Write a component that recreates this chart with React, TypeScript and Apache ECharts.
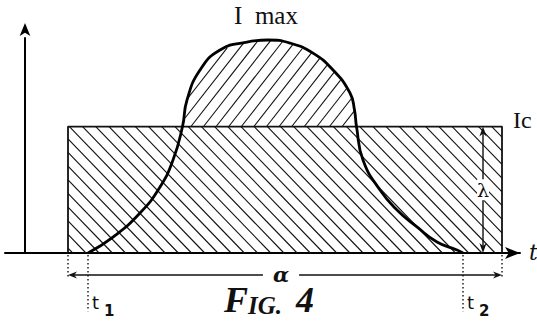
import React, { useEffect, useRef } from "react";
import * as echarts from "echarts";

// Current pulse I(t): time in arbitrary units, current in units of the critical current Ic
const pulseT = [12.6, 17.6, 23.0, 27.0, 29.6, 31.5, 32.4, 35.0, 39.0, 44.4, 48.6, 53.0, 57.6, 61.6, 65.0, 65.9, 66.3, 67.6, 71.0, 74.4, 78.4, 82.4, 86.4, 87.6];
const pulseI = [0, 0.126, 0.316, 0.522, 0.735, 1.0, 1.21, 1.447, 1.605, 1.668, 1.684, 1.66, 1.58, 1.447, 1.265, 1.13, 1.0, 0.735, 0.498, 0.34, 0.206, 0.087, 0.024, 0];

// Critical current level and the rectangular window (width alpha, height lambda)
const IC = 1;
const windowT = [8.6, 95.4];
const lambdaT = 91.6;

// Annotation levels below the time axis
const alphaLevel = -0.174;
const shortDrop = -0.2;
const longDrop = -0.46;
const subscriptLevel = -0.395;

// Labels
const labelImax = "I\u2002max";
const labelIc = "Ic";
const labelLambda = "λ";
const labelAlpha = "α";
const labelT = "t";
const tickNames = ["1", "2"];

const INK = "#111";

function hatch(poly: number[][], gap: number, angleDeg: number, rising: boolean) {
  const a = (angleDeg * Math.PI) / 180;
  const dx = Math.cos(a);
  const dy = rising ? -Math.sin(a) : Math.sin(a);
  const nx = -dy;
  const ny = dx;
  const step = Math.abs(nx) * gap;
  const vals = poly.map((p) => nx * p[0] + ny * p[1]);
  const cmin = Math.min(...vals);
  const cmax = Math.max(...vals);
  const out: number[][][] = [];
  for (let c = Math.ceil(cmin / step) * step; c <= cmax; c += step) {
    const hits: number[][] = [];
    for (let i = 0; i < poly.length; i++) {
      const p = poly[i];
      const q = poly[(i + 1) % poly.length];
      const fp = nx * p[0] + ny * p[1] - c;
      const fq = nx * q[0] + ny * q[1] - c;
      if (fp < 0 !== fq < 0) {
        const t = fp / (fp - fq);
        hits.push([p[0] + t * (q[0] - p[0]), p[1] + t * (q[1] - p[1])]);
      }
    }
    hits.sort((u, v) => u[0] * dx + u[1] * dy - (v[0] * dx + v[1] * dy));
    for (let k = 0; k + 1 < hits.length; k += 2) out.push([hits[k], hits[k + 1]]);
  }
  return out;
}

// Part of the pulse that rises above Ic, closed along the Ic level
function overCriticalPolygon() {
  const pts: number[][] = [];
  for (let i = 0; i < pulseT.length; i++) {
    const a = [pulseT[i], pulseI[i]];
    if (a[1] >= IC) pts.push(a);
    if (i + 1 < pulseT.length) {
      const b = [pulseT[i + 1], pulseI[i + 1]];
      if ((a[1] - IC) * (b[1] - IC) < 0) {
        const t = (IC - a[1]) / (b[1] - a[1]);
        pts.push([a[0] + t * (b[0] - a[0]), IC]);
      }
    }
  }
  return pts;
}

function segLines(segs: number[][][], width: number) {
  return segs.map((s) => ({
    type: "line",
    shape: { x1: s[0][0], y1: s[0][1], x2: s[1][0], y2: s[1][1] },
    style: { stroke: INK, lineWidth: width },
  }));
}

function arrowHead(tip: number[], from: number[], len: number, half: number) {
  const vx = tip[0] - from[0];
  const vy = tip[1] - from[1];
  const L = Math.hypot(vx, vy) || 1;
  const ux = vx / L;
  const uy = vy / L;
  const bx = tip[0] - ux * len;
  const by = tip[1] - uy * len;
  return {
    type: "polygon",
    shape: {
      points: [
        tip,
        [bx - uy * half, by + ux * half],
        [tip[0] - ux * len * 0.7, tip[1] - uy * len * 0.7],
        [bx + uy * half, by - ux * half],
      ],
    },
    style: { fill: INK },
  };
}

function renderHatch(_params: any, api: any) {
  const rect = [
    [windowT[0], 0],
    [windowT[1], 0],
    [windowT[1], IC],
    [windowT[0], IC],
  ].map((p) => api.coord(p));
  const bump = overCriticalPolygon().map((p) => api.coord(p));
  return {
    type: "group",
    children: [
      ...segLines(hatch(rect, 13.2, 46, false), 1.1),
      ...segLines(hatch(bump, 12.6, 52, true), 1.1),
    ],
  };
}

function renderNotes(_params: any, api: any) {
  const serif = "Liberation Serif";
  const sans = "DejaVu Sans";
  const children: any[] = [];
  const dotted = { stroke: INK, lineWidth: 1.4, lineDash: [1.4, 2.6] };

  // dotted drop lines
  const drops: [number, number][] = [
    [windowT[0], shortDrop],
    [windowT[1], shortDrop],
    [pulseT[0], longDrop],
    [pulseT[pulseT.length - 1], longDrop],
  ];
  drops.forEach(([t, lv]) => {
    const a = api.coord([t, 0]);
    const b = api.coord([t, lv]);
    children.push({ type: "line", shape: { x1: a[0], y1: a[1] + 2, x2: b[0], y2: b[1] }, style: dotted });
  });

  // alpha: window width
  const aL = api.coord([windowT[0], alphaLevel]);
  const aR = api.coord([windowT[1], alphaLevel]);
  children.push({ type: "line", shape: { x1: aL[0] + 3, y1: aL[1], x2: aR[0] - 3, y2: aR[1] }, style: { stroke: INK, lineWidth: 1.5 } });
  children.push(arrowHead(aL, aR, 9, 3.6));
  children.push(arrowHead(aR, aL, 9, 3.6));
  const aMid = api.coord([(windowT[0] + windowT[1]) / 2, alphaLevel]);
  children.push({
    type: "text",
    x: aMid[0] - 4,
    y: aMid[1] - 1,
    style: {
      text: labelAlpha, fontFamily: "DejaVu Serif", fontStyle: "italic", fontWeight: "bold", fontSize: 21, fill: INK,
      align: "center", verticalAlign: "middle", backgroundColor: "#fff", padding: [0, 10],
    },
  });

  // lambda: window height
  const lB = api.coord([lambdaT, 0]);
  const lT = api.coord([lambdaT, IC]);
  children.push({ type: "line", shape: { x1: lB[0], y1: lB[1] - 3, x2: lT[0], y2: lT[1] + 3 }, style: { stroke: INK, lineWidth: 1.4 } });
  children.push(arrowHead(lT, lB, 10, 3.6));
  children.push(arrowHead(lB, lT, 10, 3.6));
  const lM = api.coord([lambdaT, IC / 2]);
  children.push({
    type: "text",
    x: lM[0],
    y: lM[1],
    style: {
      text: labelLambda, fontFamily: "DejaVu Serif", fontSize: 19, fill: INK,
      align: "center", verticalAlign: "middle", backgroundColor: "#fff", padding: [1, 0],
    },
  });

  // I max above the peak
  let pk = 0;
  pulseI.forEach((v, i) => { if (v > pulseI[pk]) pk = i; });
  const peak = api.coord([pulseT[pk], pulseI[pk]]);
  children.push({
    type: "text", x: peak[0] - 2, y: peak[1] - 25,
    style: { text: labelImax, fontFamily: serif, fontSize: 25, fill: INK, align: "center", verticalAlign: "middle" },
  });

  // Ic at the top right of the window
  const icp = api.coord([windowT[1], IC]);
  children.push({
    type: "text", x: icp[0] + 11, y: icp[1] - 7,
    style: { text: labelIc, fontFamily: serif, fontSize: 24, fill: INK, align: "left", verticalAlign: "middle" },
  });

  // t at the end of the time axis
  const axEnd = api.coord([99, 0]);
  children.push({
    type: "text", x: axEnd[0] + 9, y: axEnd[1] - 1,
    style: { text: labelT, fontFamily: "DejaVu Serif", fontStyle: "italic", fontSize: 22, fill: INK, align: "left", verticalAlign: "middle" },
  });

  // t1, t2
  [pulseT[0], pulseT[pulseT.length - 1]].forEach((t, i) => {
    const p = api.coord([t, subscriptLevel]);
    children.push({
      type: "text", x: p[0] + 4, y: p[1],
      style: { text: "t", fontFamily: sans, fontSize: 18, fill: INK, align: "left", verticalAlign: "middle" },
    });
    children.push({
      type: "text", x: p[0] + 16, y: p[1] + 8,
      style: { text: tickNames[i], fontFamily: sans, fontWeight: "bold", fontSize: 15, fill: INK, align: "left", verticalAlign: "middle" },
    });
  });

  return { type: "group", children };
}

export default function App() {
  const ref = useRef<HTMLDivElement>(null);

  useEffect(() => {
    if (!ref.current) return;
    const chart = echarts.init(ref.current, null, { renderer: "svg" });
    const figFont = { fontFamily: "Liberation Serif", fontStyle: "italic", fontWeight: "bold", color: INK, verticalAlign: "bottom" };
    chart.setOption({
      animation: false,
      backgroundColor: "#fff",
      title: {
        text: "{a|F}{b|IG.}{c|4}",
        left: 224,
        top: 282,
        padding: 0,
        textStyle: {
          rich: {
            a: { ...figFont, fontSize: 36, lineHeight: 36 },
            b: { ...figFont, fontSize: 25, lineHeight: 27 },
            c: { ...figFont, fontSize: 36, lineHeight: 36, padding: [0, 0, 0, 14] },
          },
        },
      },
      grid: { left: 5, right: 17, top: 38, bottom: 71, containLabel: false },
      xAxis: {
        type: "value",
        min: -4,
        max: 99,
        axisLine: { show: true, onZero: true, symbol: ["none", "arrow"], symbolSize: [9, 15], lineStyle: { color: "#000", width: 2 } },
        axisTick: { show: false },
        axisLabel: { show: false },
        splitLine: { show: false },
      },
      yAxis: {
        type: "value",
        min: 0,
        max: 1.7,
        axisLine: {
          show: true,
          onZero: true,
          symbol: ["none", "arrow"],
          symbolSize: [8, 13],
          symbolOffset: [0, 15],
          lineStyle: { color: "#000", width: 2 },
        },
        axisTick: { show: false },
        axisLabel: { show: false },
        splitLine: { show: false },
      },
      series: [
        { type: "custom", name: "hatch", renderItem: renderHatch, data: [[0, 0]], clip: false, silent: true, z: 1 },
        {
          type: "line",
          name: "window",
          data: [[windowT[0], 0], [windowT[0], IC], [windowT[1], IC], [windowT[1], 0]],
          symbol: "none",
          clip: false,
          lineStyle: { color: INK, width: 1.8 },
          z: 2,
        },
        {
          type: "line",
          name: "pulse",
          data: pulseT.map((t, i) => [t, pulseI[i]]),
          smooth: 0.5,
          symbol: "none",
          clip: false,
          lineStyle: { color: "#000", width: 2.8 },
          z: 3,
        },
        { type: "custom", name: "notes", renderItem: renderNotes, data: [[0, 0]], clip: false, silent: true, z: 4 },
      ],
    });
    return () => chart.dispose();
  }, []);

  return (
    <div
      ref={ref}
      style={{ position: "fixed", left: 0, top: 0, width: 537, height: 324, background: "#fff" }}
    />
  );
}
